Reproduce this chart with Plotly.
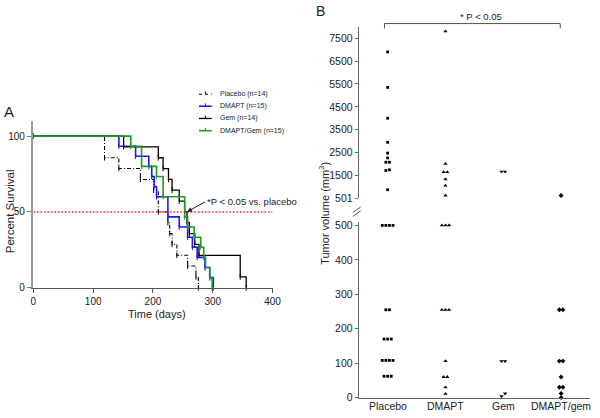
import plotly.graph_objects as go
import numpy as np

# ---------------- Panel A: Kaplan-Meier data ----------------
placebo_t = [0, 119, 143, 179, 201, 209, 225, 228, 232, 240, 258, 272, 276]
placebo_s = [100, 85.7, 78.6, 71.4, 64.3, 50, 42.9, 35.7, 28.6, 21.4, 14.3, 7.1, 0]
dmapt_t = [0, 143, 171, 193, 198, 202, 206, 225, 244, 258, 266, 274, 287, 295, 301]
dmapt_s = [100, 93.3, 86.7, 80, 73.3, 66.7, 60, 46.7, 40, 33.3, 26.7, 20, 13.3, 6.7, 0]
gem_t = [0, 151, 209, 217, 226, 232, 244, 253, 257, 261, 270, 277, 346, 356]
gem_s = [100, 92.9, 85.7, 78.6, 71.4, 64.3, 57.1, 50, 42.9, 35.7, 28.6, 21.4, 7.1, 0]
combo_t = [0, 163, 181, 206, 217, 253, 258, 269, 280, 285, 288, 295, 299]
combo_s = [100, 93.3, 80, 73.3, 60, 46.7, 40, 33.3, 26.7, 20, 13.3, 6.7, 0]
km_names = ["Placebo (n=14)", "DMAPT (n=15)", "Gem (n=14)", "DMAPT/Gem (n=15)"]

# ---------------- Panel B: tumor volume data ----------------
categories = ["Placebo", "DMAPT", "Gem", "DMAPT/gem"]
placebo_vol = [6900, 5350, 4000, 2950, 2480, 2270, 2080, 2080, 1750, 1720, 880,
               500, 500, 500, 500, 255, 255, 170, 170, 170, 108, 108, 108, 108, 62, 62, 62]
dmapt_vol = [7800, 2010, 1650, 1650, 1340, 1060, 630,
             500, 500, 500, 255, 255, 255, 106, 60, 60, 30, 11]
gem_vol = [1670, 1670, 106, 106, 12, 4]
combo_vol = [630, 255, 255, 106, 106, 60, 30, 30, 12, 0]
upper_ticks = [501, 1500, 2500, 3500, 4500, 5500, 6500, 7500]
lower_ticks = [0, 100, 200, 300, 400, 500]

W, H = 600, 418
FONT = "Arial, Liberation Sans, sans-serif"

def py(p):
    return 1 - p / H

fig = go.Figure()

styles = [("black", "4px,2px,1px,2px", 1.1),
          ("#1a1aff", "solid", 1.6),
          ("black", "solid", 1.3),
          ("#1e9a1e", "solid", 1.6)]
for name, t, s, (c, d, w) in zip(km_names,
                                 [placebo_t, dmapt_t, gem_t, combo_t],
                                 [placebo_s, dmapt_s, gem_s, combo_s], styles):
    fig.add_trace(go.Scatter(
        x=t, y=s, mode="lines+markers", name=name, showlegend=False,
        line=dict(shape="hv", color=c, dash=d, width=w),
        marker=dict(symbol="line-ns-open", size=4, color=c, line=dict(width=1, color=c)),
        xaxis="x", yaxis="y", cliponaxis=False))

# ---- panel B scatter with tie spreading ----
def ypix(v):
    return 403.3 - v * 0.352 if v <= 500 else 199.7 - (v - 501) * 0.0234

symbols = ["square", "triangle-up", "triangle-down", "diamond"]
sizes = [2.8, 3.8, 3.8, 3.8]
for ci, vals in enumerate([placebo_vol, dmapt_vol, gem_vol, combo_vol]):
    v = sorted(vals)
    clusters = []
    for val in v:
        if clusters and abs(ypix(val) - ypix(clusters[-1][-1])) < 3.5:
            clusters[-1].append(val)
        else:
            clusters.append([val])
    xs, ys = [], []
    for cl in clusters:
        n = len(cl)
        for k, val in enumerate(cl):
            xs.append(ci + (k - (n - 1) / 2) * 0.062)
            ys.append(val)
    xs = np.array(xs); ys = np.array(ys)
    up = ys > 500
    for mask, ya in [(up, "y3"), (~up, "y2")]:
        fig.add_trace(go.Scatter(
            x=xs[mask], y=ys[mask], mode="markers", showlegend=False,
            marker=dict(symbol=symbols[ci], size=sizes[ci], color="black",
                        line=dict(width=0)),
            xaxis="x2", yaxis=ya, cliponaxis=False))

axis_common = dict(showgrid=False, zeroline=False, showline=True, ticks="outside",
                   tickfont=dict(size=10, color="#222", family=FONT))
axis_b = dict(axis_common, tickfont=dict(size=10.5, color="#222", family=FONT))

fig.update_layout(
    width=W, height=H, margin=dict(l=0, r=0, t=0, b=0),
    paper_bgcolor="white", plot_bgcolor="white", showlegend=False,
    font=dict(family=FONT, color="#222"),
    xaxis=dict(domain=[31 / W, 275 / W], range=[0, 400], anchor="y",
               tickvals=[0, 100, 200, 300, 400], linecolor="#555", linewidth=1,
               tickcolor="#555", ticklen=4, **axis_common),
    yaxis=dict(domain=[py(291), py(120.5)], range=[0, 110], anchor="x",
               tickvals=[0, 50, 100], linecolor="#9a9a9a", linewidth=2.5,
               tickcolor="#777", ticklen=4, **axis_common),
    xaxis2=dict(domain=[363 / W, 599 / W], range=[-0.5, 3.5], anchor="y2",
                tickvals=[0, 1, 2, 3], showticklabels=False, linecolor="#666",
                showgrid=False, zeroline=False, showline=True, ticks=""),
    yaxis2=dict(domain=[py(403.3), py(223.8)], range=[0, 510], anchor="x2",
                tickvals=lower_ticks, linecolor="#666", tickcolor="#666", ticklen=3,
                **axis_b),
    yaxis3=dict(domain=[py(199.7), py(25)], range=[501, 7967], anchor="x2",
                tickvals=upper_ticks, linecolor="#666", tickcolor="#666", ticklen=3,
                **axis_b),
)

# red dotted 50% line
fig.add_shape(type="line", xref="x", yref="y", x0=0, x1=400, y0=50, y1=50,
              line=dict(color="#ff1a1a", width=1.5, dash="1.5px,2px"))

# manual legend (panel A)
leg_y = [93.3, 105.5, 118, 130.5]
for i, (name, (c, d, w)) in enumerate(zip(km_names, styles)):
    yy = py(leg_y[i])
    fig.add_shape(type="line", xref="paper", yref="paper", x0=200 / W, x1=213 / W,
                  y0=yy, y1=yy, line=dict(color=c, width=w, dash="dot" if d != "solid" else "solid"))
    fig.add_shape(type="line", xref="paper", yref="paper", x0=206.5 / W, x1=206.5 / W,
                  y0=py(leg_y[i] - 3), y1=yy, line=dict(color=c, width=1))
    fig.add_annotation(xref="paper", yref="paper", x=219 / W, y=yy, text=name,
                       showarrow=False, xanchor="left", yanchor="middle",
                       font=dict(size=7, family=FONT, color="#222"))

# category labels panel B
for ci, cat in enumerate(categories):
    fig.add_annotation(xref="x2", yref="paper", x=ci, y=py(412), text=cat,
                       showarrow=False, xanchor="center", yanchor="middle",
                       font=dict(size=10.5, family=FONT, color="#222"))

# bracket in panel B
fig.add_shape(type="path", xref="x2", yref="paper",
              path=f"M -0.055 {py(26)} L -0.055 {py(21)} L 2.985 {py(21)} L 2.985 {py(26)}",
              line=dict(color="#555", width=1))
# axis break marks
for dy in (0, 4):
    fig.add_shape(type="line", xref="paper", yref="paper",
                  x0=357 / W, y0=py(214 + dy), x1=365 / W, y1=py(208.5 + dy),
                  line=dict(color="#555", width=1))

ann = [
    dict(text="A", x=6 / W, y=py(111), font=dict(size=15)),
    dict(text="B", x=324 / W, y=py(8), font=dict(size=14)),
    dict(text="Percent Survival", x=8 / W, y=py(213), textangle=-90, font=dict(size=11.5)),
    dict(text="Time (days)", x=157 / W, y=py(317.5), font=dict(size=11)),
    dict(text="Tumor volume (mm<sup>3</sup>)", x=328 / W, y=py(215), textangle=-90,
         font=dict(size=11)),
    dict(text="* P < 0.05", x=488 / W, y=py(14), font=dict(size=9.5)),
]
for a in ann:
    f = dict(family=FONT, color="#222"); f.update(a.pop("font"))
    fig.add_annotation(xref="paper", yref="paper", showarrow=False,
                       xanchor="center", yanchor="middle", font=f, **a)

fig.add_annotation(x=257, y=50, xref="x", yref="y", text="*P < 0.05 vs. placebo",
                   showarrow=True, arrowhead=2, arrowsize=1, arrowwidth=1, arrowcolor="#222",
                   ax=18, ay=-10, xanchor="left", yanchor="middle",
                   font=dict(size=9.5, family=FONT, color="#222"))

fig.write_html("out.html", config={"displayModeBar": False, "staticPlot": True},
               post_script="document.body.style.margin='0px';document.body.style.overflow='hidden';")
